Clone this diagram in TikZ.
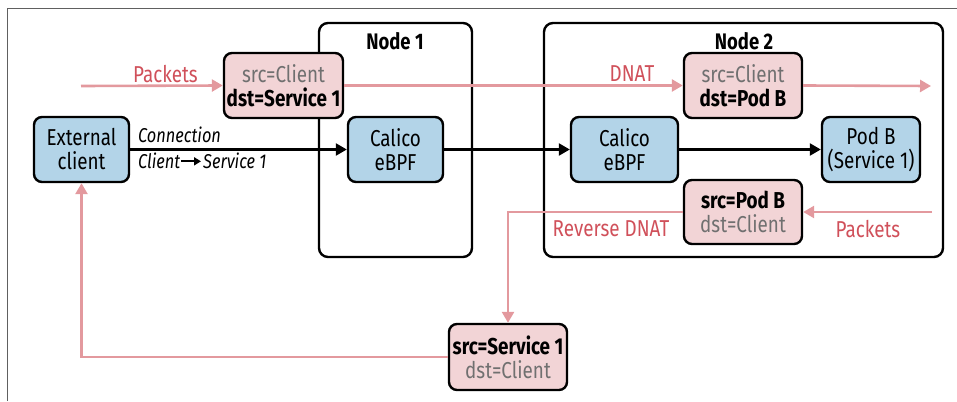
\documentclass[tikz,border=0pt]{standalone}
\usepackage{fontspec}
\setmainfont{Fira Sans}[FakeStretch=0.82]
\usetikzlibrary{arrows.meta}
\definecolor{boxblue}{HTML}{B3D4E8}
\definecolor{boxpink}{HTML}{F2D4D6}
\definecolor{redtxt}{HTML}{D0505A}
\definecolor{redline}{HTML}{E3999E}
\definecolor{graytxt}{HTML}{707070}
\definecolor{framegray}{HTML}{606060}
\begin{document}
\begin{tikzpicture}[x=1pt,y=-1pt,
  box/.style={draw=black, line width=2.4pt, rounded corners=8pt, inner sep=0pt,
    align=center, font=\fontsize{23}{24}\selectfont},
  bluebox/.style={box, fill=boxblue},
  pinkbox/.style={box, fill=boxpink},
  container/.style={draw=black, line width=2.4pt, rounded corners=9pt, inner sep=0pt},
  title/.style={font=\fontsize{22.5}{24}\selectfont\bfseries, inner sep=0pt},
  redlbl/.style={text=redtxt, font=\fontsize{23}{24}\selectfont, inner sep=0pt},
  conlbl/.style={font=\fontsize{20}{22}\selectfont\itshape, inner sep=0pt},
  blkarrow/.style={line width=2.4pt, -{Triangle[length=11pt,width=12pt]}},
  smallarrow/.style={line width=2pt, -{Triangle[length=7pt,width=8pt]}},
  redarrow/.style={draw=redline, line width=2.6pt, -{Triangle[length=11pt,width=12pt]}},
]
\useasboundingbox (0,0) rectangle (957,401);
\draw[framegray, line width=0.8pt] (7,401) -- (7,8) -- (957,8);

% containers
\node[container, minimum width=153pt, minimum height=234pt] (node1) at (395.5,140) {};
\node[container, minimum width=399pt, minimum height=234pt] (node2) at (743.5,140) {};
\node[title] (n1lbl) at (395,41) {Node 1};
\node[title] (n2lbl) at (744,41) {Node 2};

% coordinates for free ends
\coordinate (pin) at (81,86);
\coordinate (pout) at (931,86);
\coordinate (rin) at (932,212);

% boxes
\node[bluebox, minimum width=95pt, minimum height=65pt] (ext) at (81.5,149.5) {External\\client};
\node[pinkbox, minimum width=119pt, minimum height=65pt] (pkt1) at (283.5,85.5) {\textcolor{graytxt}{src=Client}\\\textbf{dst=Service 1}};
\node[bluebox, minimum width=95pt, minimum height=65pt] (cal1) at (395.5,149.5) {Calico\\eBPF};
\node[bluebox, minimum width=107pt, minimum height=65pt] (cal2) at (624.5,149.5) {Calico\\eBPF};
\node[pinkbox, minimum width=118pt, minimum height=65pt] (pkt2) at (743,85.5) {\textcolor{graytxt}{src=Client}\\\textbf{dst=Pod B}};
\node[bluebox, minimum width=98pt, minimum height=65pt] (podb) at (871,149.5) {Pod B\\(Service 1)};
\node[pinkbox, minimum width=118pt, minimum height=64pt] (pkt3) at (743,212) {\textbf{src=Pod B}\\\textcolor{graytxt}{dst=Client}};
\node[pinkbox, minimum width=118pt, minimum height=66pt] (pkt4) at (508,357) {\textbf{src=Service 1}\\\textcolor{graytxt}{dst=Client}};

% labels
\node[redlbl] (lpk1) at (165.5,74) {Packets};
\node[redlbl] (ldnat) at (632,74) {DNAT};
\node[redlbl] (lpk2) at (868,229) {Packets};
\node[redlbl] (lrdnat) at (611,229) {Reverse DNAT};
\node[conlbl, anchor=base west] (lcon) at (138,142) {Connection};
\node[conlbl, anchor=base west] (lcl) at (138,168) {Client};
\node[conlbl, anchor=base west] (lsv) at (203,168) {Service 1};

% black connectors
\draw[blkarrow] (ext.east) -- (cal1.west);
\draw[blkarrow] (cal1.east) -- (cal2.west);
\draw[blkarrow] (cal2.east) -- (podb.west);
\draw[smallarrow] ([xshift=1pt,yshift=-1pt]lcl.east) -- ([xshift=-2pt,yshift=-1pt]lsv.west);

% red connectors
\draw[redarrow] (pin) -- (pkt1.west);
\draw[redarrow] (pkt1.east) -- (pkt2.west);
\draw[redarrow] (pkt2.east) -- (pout);
\draw[redarrow] (rin) -- (pkt3.east);
\draw[redarrow] (pkt3.west) -| (pkt4.north);
\draw[redarrow] (pkt4.west) -| (ext.south);
\end{tikzpicture}
\end{document}
